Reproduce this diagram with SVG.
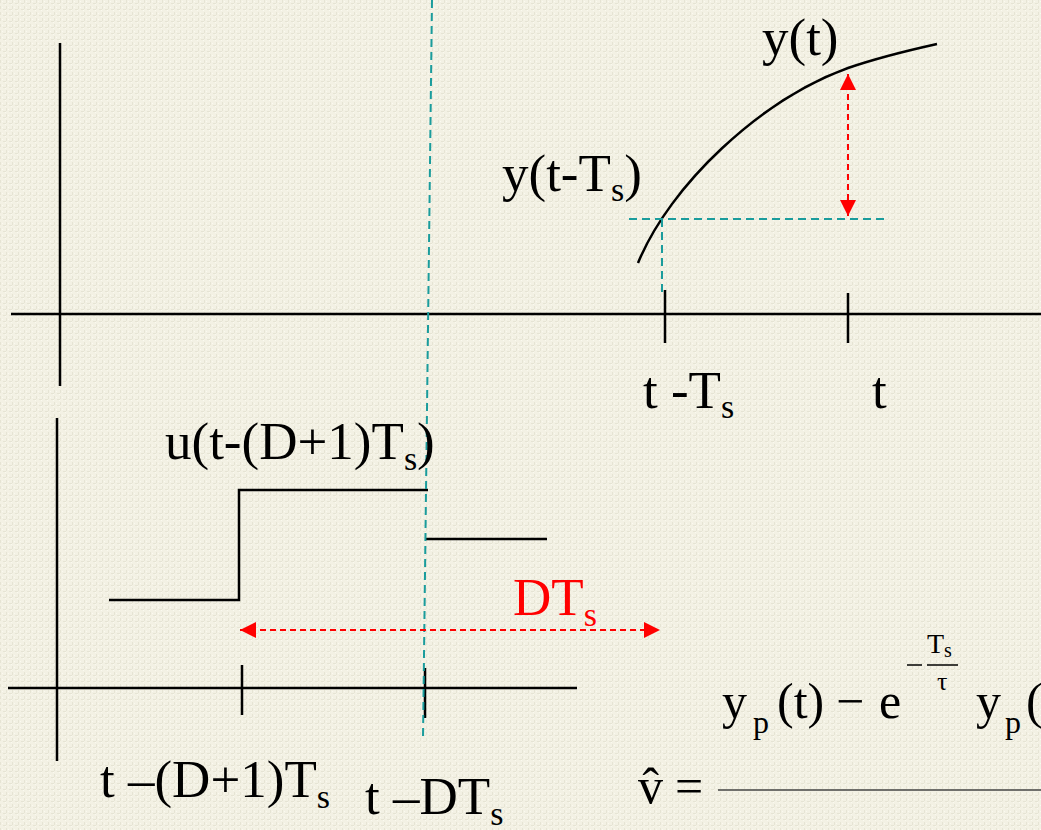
<svg xmlns="http://www.w3.org/2000/svg" width="1041" height="830" viewBox="0 0 1041 830">
<defs>
<style>
.ax{stroke:#000;stroke-width:2.5;fill:none}
.teal{stroke:#1a9c9c;stroke-width:2;stroke-dasharray:8 5;fill:none}
.red{stroke:#ff0000;stroke-width:2;stroke-dasharray:6 4;fill:none}
.lbl{font-family:"Liberation Serif","Times New Roman",serif;font-size:53px;fill:#000}
.sub{font-size:34px}
.redt{fill:#ff0000}
.eq{font-size:50px}
</style>
<marker id="ah" viewBox="0 0 16 16" refX="16" refY="8" markerWidth="16" markerHeight="16" markerUnits="userSpaceOnUse" orient="auto-start-reverse">
<path d="M0,0 L16,8 L0,16 Z" fill="#ff0000"/>
</marker>
<pattern id="tex" width="6" height="6" patternUnits="userSpaceOnUse">
<rect width="6" height="6" fill="#f3f1e4"/>
<rect x="0" y="0" width="1" height="3" fill="#e6e4d4"/>
<rect x="3" y="3" width="3" height="1" fill="#e6e4d4"/>
<rect x="2" y="1" width="1" height="1" fill="#fbfaf0"/>
<rect x="5" y="4" width="1" height="1" fill="#fbfaf0"/>
</pattern>
</defs>
<rect width="1041" height="830" fill="url(#tex)"/>

<g id="top-axes">
<line class="ax" x1="60" y1="43" x2="60" y2="386"/>
<line class="ax" x1="11" y1="314" x2="1041" y2="314"/>
<line class="ax" x1="665" y1="290" x2="665" y2="343"/>
<line class="ax" x1="848" y1="293" x2="848" y2="343"/>
</g>

<g id="curve">
<path class="ax" d="M638,263 C670,185 760,100 848,68 C880,57 910,50 937,44"/>
</g>

<g id="bottom-axes">
<line class="ax" x1="57" y1="418" x2="57" y2="761"/>
<line class="ax" x1="8" y1="688" x2="577" y2="688"/>
<line class="ax" x1="242" y1="665" x2="242" y2="715"/>
<line class="ax" x1="425" y1="668" x2="425" y2="718"/>
</g>

<g id="step">
<polyline class="ax" points="109,600 239,600 239,490 428,490"/>
<line class="ax" x1="425" y1="539" x2="547" y2="539"/>
</g>

<g id="connectors">
<line class="teal" x1="432" y1="0" x2="423" y2="738"/>
<line class="teal" x1="662" y1="219" x2="662" y2="297"/>
<line class="teal" x1="629" y1="219" x2="888" y2="219"/>
<line class="red" x1="848" y1="74" x2="848" y2="216" marker-start="url(#ah)" marker-end="url(#ah)"/>
<line class="red" x1="240" y1="630" x2="660" y2="630" marker-start="url(#ah)" marker-end="url(#ah)"/>
</g>

<g id="labels">
<text class="lbl" x="762" y="55">y(t)</text>
<text class="lbl" x="502" y="191">y(t-T<tspan class="sub" dy="10">s</tspan><tspan dy="-10">)</tspan></text>
<text class="lbl" x="643" y="408">t -T<tspan class="sub" dy="10">s</tspan></text>
<text class="lbl" x="872" y="408">t</text>
<text class="lbl" x="165" y="459">u(t-(D+1)T<tspan class="sub" dy="11">s</tspan><tspan dy="-11">)</tspan></text>
<text class="lbl redt" x="513" y="615">DT<tspan class="sub" dy="11">s</tspan></text>
<text class="lbl" x="100" y="797">t –(D+1)T<tspan class="sub" dy="11">s</tspan></text>
<text class="lbl" x="365" y="814">t –DT<tspan class="sub" dy="11">s</tspan></text>
</g>

<g id="equation">
<text class="lbl eq" x="638" y="803">v̂</text>
<text class="lbl eq" x="675" y="803">=</text>
<line x1="718" y1="790" x2="1041" y2="790" stroke="#444" stroke-width="1.5"/>
<text class="lbl eq" x="722" y="718">y</text>
<text class="lbl" x="753" y="733" style="font-size:32px">p</text>
<text class="lbl eq" x="777" y="718">(t)</text>
<text class="lbl eq" x="836" y="718">−</text>
<text class="lbl eq" x="879" y="718">e</text>
<line x1="907" y1="665" x2="922" y2="665" stroke="#000" stroke-width="1.5"/>
<text class="lbl" x="927" y="653" style="font-size:28px">T<tspan style="font-size:20px" dy="4">s</tspan></text>
<line x1="927" y1="665" x2="958" y2="665" stroke="#000" stroke-width="1.5"/>
<text class="lbl" x="937" y="690" style="font-size:26px">τ</text>
<text class="lbl eq" x="976" y="718">y</text>
<text class="lbl" x="1005" y="733" style="font-size:32px">p</text>
<text class="lbl eq" x="1026" y="718">(</text>
</g>
</svg>
